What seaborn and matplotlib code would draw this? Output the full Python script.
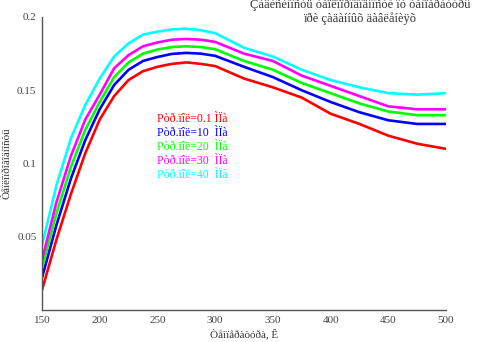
import matplotlib
matplotlib.use("Agg")
import matplotlib.pyplot as plt
import seaborn as sns
import pandas as pd

temperature = [150, 162.5, 175, 187.5, 200, 212.5, 225, 237.5, 250, 262.5, 275, 287.5,
               300, 325, 350, 375, 400, 425, 450, 475, 500]
p01 = [0.0136, 0.048, 0.079, 0.107, 0.130, 0.146, 0.157, 0.163, 0.166, 0.168, 0.169, 0.168,
       0.1665, 0.158, 0.152, 0.145, 0.134, 0.127, 0.119, 0.1135, 0.110]
p10 = [0.022, 0.058, 0.0896, 0.116, 0.137, 0.1536, 0.164, 0.170, 0.1727, 0.1748, 0.1755, 0.175,
       0.1735, 0.166, 0.159, 0.150, 0.142, 0.135, 0.1295, 0.127, 0.127]
p20 = [0.0286, 0.066, 0.0976, 0.123, 0.142, 0.159, 0.169, 0.175, 0.1778, 0.1795, 0.180, 0.1795,
       0.178, 0.170, 0.164, 0.155, 0.148, 0.141, 0.1355, 0.133, 0.133]
p30 = [0.034, 0.0735, 0.105, 0.130, 0.147, 0.165, 0.174, 0.180, 0.1826, 0.1845, 0.185, 0.1845,
       0.183, 0.175, 0.170, 0.160, 0.153, 0.146, 0.139, 0.137, 0.137]
p40 = [0.044, 0.085, 0.117, 0.140, 0.158, 0.173, 0.182, 0.188, 0.190, 0.1915, 0.192, 0.191,
       0.189, 0.179, 0.173, 0.164, 0.157, 0.152, 0.148, 0.147, 0.148]

labels = ["Pòð.ïîë=0.1 ÌÏà", "Pòð.ïîë=10  ÌÏà", "Pòð.ïîë=20  ÌÏà",
          "Pòð.ïîë=30  ÌÏà", "Pòð.ïîë=40  ÌÏà"]
colors = ["#ff0000", "#0000ff", "#00ff00", "#ff00ff", "#00ffff"]
title1 = "Çàâèñèìîñòü òåïëîïðîâîäíîñòè îò òåìïåðàòóðû"
title2 = "ïðè çàäàííûõ äàâëåíèÿõ"
xlabel = "Òåìïåðàòóðà, Ê"
ylabel = "Òåïëîïðîâîäíîñòü"
xticks = [150, 200, 250, 300, 350, 400, 450, 500]
yticks = [0.05, 0.1, 0.15, 0.2]
ytick_labels = ["0.05", "0.1", "0.15", "0.2"]

rows = []
for lab, vals in zip(labels, [p01, p10, p20, p30, p40]):
    for t, v in zip(temperature, vals):
        rows.append({"T": t, "k": v, "series": lab})
df = pd.DataFrame(rows)

sns.set_style("white")
plt.rcParams["font.family"] = ["Liberation Serif", "DejaVu Serif"]

fig = plt.figure(figsize=(4.8, 3.42), dpi=100)
ax = fig.add_axes([42 / 480, 1 - 310 / 342, 404 / 480, 293 / 342])
sns.lineplot(data=df, x="T", y="k", hue="series", palette=colors,
             linewidth=1.9, ax=ax, legend=True)

ax.set_xlim(150, 500)
ax.set_ylim(0, 0.2)
ax.set_xticks(xticks)
ax.set_yticks(yticks)
ax.set_yticklabels(ytick_labels)
for s in ["top", "right"]:
    ax.spines[s].set_visible(False)
for s in ["left", "bottom"]:
    ax.spines[s].set_color("#555555")
    ax.spines[s].set_linewidth(1.0)
ax.tick_params(axis="both", direction="inout", length=6, width=0.8,
               color="#555555", labelcolor="#444444", labelsize=8, pad=1)
ax.set_xlabel(xlabel, fontsize=8, color="#333333", labelpad=3)
ax.set_ylabel(ylabel, fontsize=8, color="#333333", labelpad=4)

leg = ax.legend(loc="upper left", bbox_to_anchor=(0.258, 0.71), frameon=False,
                handlelength=0, handletextpad=0, labelspacing=0.18,
                fontsize=8.5, labelcolor="linecolor")
for h in leg.legend_handles:
    h.set_visible(False)

fig.text(360 / 480, 1 - 5 / 342, title1, ha="center", va="center",
         fontsize=9, color="#333333")
fig.text(360 / 480, 1 - 19 / 342, title2, ha="center", va="center",
         fontsize=9, color="#333333")

fig.savefig("out.png", dpi=100)
